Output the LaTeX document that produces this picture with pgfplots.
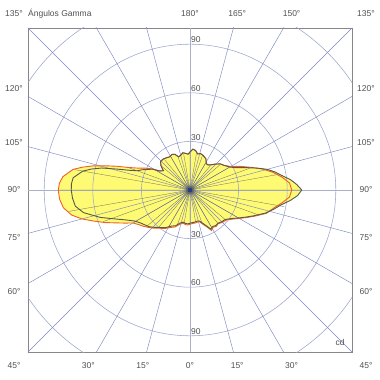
\documentclass[border=0pt]{standalone}
\usepackage{fontspec}
\setmainfont{Liberation Sans}
\usepackage{pgfplots}
\pgfplotsset{compat=1.18}
\definecolor{ringc}{RGB}{155,165,205}
\definecolor{rayc}{RGB}{125,135,192}
\definecolor{axl}{RGB}{170,176,200}
\definecolor{fillc}{RGB}{255,250,115}
\definecolor{redc}{RGB}{240,95,40}
\definecolor{darkc}{RGB}{85,90,75}
\definecolor{inray}{RGB}{105,108,100}
\definecolor{txt}{RGB}{80,80,80}
\definecolor{boxc}{RGB}{135,135,135}
\begin{document}
\begin{tikzpicture}[font=\fontsize{8.5}{10}\selectfont]
\begin{axis}[at={(0,0)}, anchor=south west, width=324pt, height=324pt, scale only axis,
  xmin=-100, xmax=100, ymin=-100, ymax=100, ticks=none,
  axis line style={boxc, line width=0.8pt}]
% red curve (C plane 1) : angle (math deg), intensity (cd)
\addplot[data cs=polar, fill=fillc, draw=none, forget plot] coordinates {
(0,62.8)(4,61.6)(8,57.3)(12,52.4)(16,46.8)(20,40.7)(25,34.5)(30,29.0)(36,25.9)(41,24.6)
(46,22.2)(50,20.3)(54,19.1)(58,19.1)(63,21.6)(69,22.8)(74,23.4)(78,22.8)(82,24.6)(86,25.3)
(90,23.4)(93,22.2)(97,22.8)(101,23.4)(105,22.2)(109,21.6)(113,24.0)(117,24.6)(121,24.0)
(126,24.6)(131,25.3)(136,25.3)(140,23.4)(144,20.3)(148,22.2)(151,27.1)(154,30.8)(157,34.5)
(160,40.7)(162,47.4)(164,54.2)(166,61.6)(168,67.8)(170,73.3)(174,78.9)(177,80.7)(180,81.3)
(184,80.7)(188,78.9)(192,74.6)(195,69.0)(198,62.2)(201,56.1)(204,49.9)(207,45.0)(210,40.7)
(214,38.2)(218,36.4)(222,34.5)(226,32.7)(230,30.8)(237,28.3)(243,25.9)(248,24.6)(253,22.2)
(258,20.9)(263,21.6)(267,21.6)(272,20.9)(279,20.6)(284,20.3)(287,20.6)(291,22.8)(295,25.3)
(298,28.3)(302,27.1)(306,27.7)(310,27.1)(315,28.3)(320,29.0)(325,31.4)(330,35.1)(334,38.8)
(338,43.1)(343,49.3)(348,53.0)(352,57.3)(356,61.6)(360,62.8)};
\addplot[data cs=polar, fill=fillc, draw=none, forget plot] coordinates {
(0,69.0)(3,65.9)(6,62.2)(9,57.3)(12,53.6)(15,49.3)(18,43.7)(22,37.0)(26,31.4)(30,28.3)
(36,25.9)(41,24.6)(46,22.2)(50,20.3)(54,19.1)(58,19.1)(63,21.6)(69,22.8)(74,23.4)(78,22.8)
(82,24.6)(86,25.3)(90,23.4)(93,22.2)(97,22.8)(101,23.4)(105,22.2)(109,21.6)(113,24.0)(117,24.6)
(121,24.0)(126,24.6)(131,25.3)(136,25.3)(140,23.4)(144,20.3)(148,22.2)(151,26.5)(154,29.0)
(157,32.0)(160,34.7)(162,39.4)(164,46.8)(166,56.1)(168,62.2)(170,67.2)(174,72.5)(177,73.3)
(180,73.3)(184,72.7)(188,71.5)(192,67.2)(197,57.9)(202,48.1)(205,43.7)(209,39.4)(213,37.0)
(218,35.1)(222,33.9)(226,32.0)(230,30.2)(237,27.7)(243,25.0)(248,23.8)(253,21.4)(258,20.3)
(263,20.9)(267,20.9)(272,20.3)(279,20.0)(284,19.7)(287,20.0)(291,22.0)(295,24.6)(298,27.4)
(302,26.5)(306,27.1)(310,26.8)(315,27.7)(320,28.3)(325,30.8)(330,34.5)(334,38.2)(338,42.5)
(343,48.7)(347,53.0)(351,57.3)(354,62.2)(357,66.5)(360,69.0)};
% grid
\draw[ringc, line width=0.55pt] (0,0) circle[radius=30];
\draw[ringc, line width=0.55pt] (0,0) circle[radius=60];
\draw[ringc, line width=0.55pt] (0,0) circle[radius=90];
\draw[ringc, line width=0.55pt] (0,0) circle[radius=120];
\pgfplotsinvokeforeach{15,30,45,60,75,105,120,135,150,165,195,210,225,240,255,285,300,315,330,345}{
  \draw[rayc, line width=0.45pt] (0,0) -- ({160*cos(#1)},{160*sin(#1)});
}
\draw[axl, line width=0.7pt] (-100,0) -- (100,0);
\draw[axl, line width=0.7pt] (0,-100) -- (0,100);
% inner rays
\addplot[data cs=polar, inray, line width=0.3pt, forget plot] coordinates {
(0,0)(0,68)(0,0)(10,55)(0,0)(20,40)(0,0)(30,28)(0,0)(40,24)(0,0)(50,19.5)(0,0)(60,19.5)
(0,0)(70,22.3)(0,0)(80,23)(0,0)(90,22.8)(0,0)(100,22.6)(0,0)(110,21.5)(0,0)(120,23.6)
(0,0)(130,24.5)(0,0)(140,22.8)(0,0)(150,25)(0,0)(160,40)(0,0)(170,72.5)(0,0)(180,80.5)
(0,0)(190,76)(0,0)(200,57)(0,0)(210,40)(0,0)(220,35)(0,0)(230,30)(0,0)(240,26.5)
(0,0)(250,23.2)(0,0)(260,20.6)(0,0)(270,20.6)(0,0)(280,20)(0,0)(290,21.6)(0,0)(300,27)
(0,0)(310,26.5)(0,0)(320,28.4)(0,0)(330,34.5)(0,0)(340,45.3)(0,0)(350,59)(0,0)};
% outlines
\addplot[data cs=polar, redc, line width=0.9pt, forget plot] coordinates {
(0,62.8)(4,61.6)(8,57.3)(12,52.4)(16,46.8)(20,40.7)(25,34.5)(30,29.0)(36,25.9)(41,24.6)
(46,22.2)(50,20.3)(54,19.1)(58,19.1)(63,21.6)(69,22.8)(74,23.4)(78,22.8)(82,24.6)(86,25.3)
(90,23.4)(93,22.2)(97,22.8)(101,23.4)(105,22.2)(109,21.6)(113,24.0)(117,24.6)(121,24.0)
(126,24.6)(131,25.3)(136,25.3)(140,23.4)(144,20.3)(148,22.2)(151,27.1)(154,30.8)(157,34.5)
(160,40.7)(162,47.4)(164,54.2)(166,61.6)(168,67.8)(170,73.3)(174,78.9)(177,80.7)(180,81.3)
(184,80.7)(188,78.9)(192,74.6)(195,69.0)(198,62.2)(201,56.1)(204,49.9)(207,45.0)(210,40.7)
(214,38.2)(218,36.4)(222,34.5)(226,32.7)(230,30.8)(237,28.3)(243,25.9)(248,24.6)(253,22.2)
(258,20.9)(263,21.6)(267,21.6)(272,20.9)(279,20.6)(284,20.3)(287,20.6)(291,22.8)(295,25.3)
(298,28.3)(302,27.1)(306,27.7)(310,27.1)(315,28.3)(320,29.0)(325,31.4)(330,35.1)(334,38.8)
(338,43.1)(343,49.3)(348,53.0)(352,57.3)(356,61.6)(360,62.8)};
\addplot[data cs=polar, darkc, line width=0.9pt, forget plot] coordinates {
(0,69.0)(3,65.9)(6,62.2)(9,57.3)(12,53.6)(15,49.3)(18,43.7)(22,37.0)(26,31.4)(30,28.3)
(36,25.9)(41,24.6)(46,22.2)(50,20.3)(54,19.1)(58,19.1)(63,21.6)(69,22.8)(74,23.4)(78,22.8)
(82,24.6)(86,25.3)(90,23.4)(93,22.2)(97,22.8)(101,23.4)(105,22.2)(109,21.6)(113,24.0)(117,24.6)
(121,24.0)(126,24.6)(131,25.3)(136,25.3)(140,23.4)(144,20.3)(148,22.2)(151,26.5)(154,29.0)
(157,32.0)(160,34.7)(162,39.4)(164,46.8)(166,56.1)(168,62.2)(170,67.2)(174,72.5)(177,73.3)
(180,73.3)(184,72.7)(188,71.5)(192,67.2)(197,57.9)(202,48.1)(205,43.7)(209,39.4)(213,37.0)
(218,35.1)(222,33.9)(226,32.0)(230,30.2)(237,27.7)(243,25.0)(248,23.8)(253,21.4)(258,20.3)
(263,20.9)(267,20.9)(272,20.3)(279,20.0)(284,19.7)(287,20.0)(291,22.0)(295,24.6)(298,27.4)
(302,26.5)(306,27.1)(310,26.8)(315,27.7)(320,28.3)(325,30.8)(330,34.5)(334,38.2)(338,42.5)
(343,48.7)(347,53.0)(351,57.3)(354,62.2)(357,66.5)(360,69.0)};
\addplot[only marks, mark=*, mark size=2.2pt, color={rgb,255:red,40;green,60;blue,130}, forget plot] coordinates {(0,0)};
% ring labels
\node[anchor=south west, inner sep=1pt, text=txt] at (0,90) {90};
\node[anchor=south west, inner sep=1pt, text=txt] at (0,60) {60};
\node[anchor=south west, inner sep=1pt, text=txt] at (0,30) {30};
\node[anchor=south west, inner sep=1pt, text=txt] at (0,-30) {30};
\node[anchor=south west, inner sep=1pt, text=txt] at (0,-60) {60};
\node[anchor=south west, inner sep=1pt, text=txt] at (0,-90) {90};
\node[text=txt, inner sep=0pt] at (92.6,-94) {cd};
\end{axis}
\begin{scope}[every node/.style={text=txt, inner sep=0pt}]
% top row
\node at (-14pt,338pt) {135°};
\node[anchor=west] at (0pt,338pt) {Ángulos Gamma};
\node at (162pt,338pt) {180°};
\node at (209.2pt,338pt) {165°};
\node at (263.6pt,338pt) {150°};
\node at (338pt,338pt) {135°};
% left column
\node at (-14pt,263.6pt) {120°};
\node at (-14pt,209.2pt) {105°};
\node at (-14pt,162pt) {90°};
\node at (-14pt,114.8pt) {75°};
\node at (-14pt,60.4pt) {60°};
% right column
\node at (338pt,263.6pt) {120°};
\node at (338pt,209.2pt) {105°};
\node at (338pt,162pt) {90°};
\node at (338pt,114.8pt) {75°};
\node at (338pt,60.4pt) {60°};
% bottom row
\node at (-14pt,-14pt) {45°};
\node at (60.4pt,-14pt) {30°};
\node at (114.8pt,-14pt) {15°};
\node at (162pt,-14pt) {0°};
\node at (209.2pt,-14pt) {15°};
\node at (263.6pt,-14pt) {30°};
\node at (338pt,-14pt) {45°};
\end{scope}
\pgfresetboundingbox
\path (-28pt,-28pt) rectangle (352pt,352pt);
\end{tikzpicture}
\end{document}
